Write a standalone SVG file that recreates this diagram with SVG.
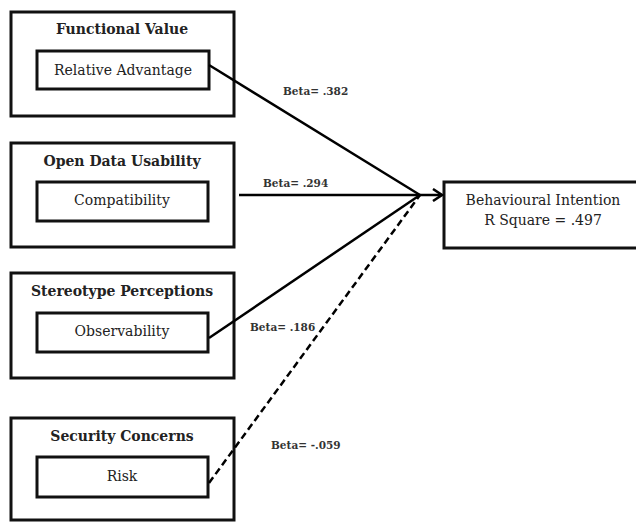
<svg xmlns="http://www.w3.org/2000/svg" width="636" height="522" viewBox="0 0 636 522">
<defs>
<style>
.box{fill:none;stroke:#111;stroke-width:3}
.title{font-family:"DejaVu Serif","Liberation Serif",serif;font-size:14px;font-weight:bold;fill:#222;text-anchor:middle}
.inner{font-family:"DejaVu Serif","Liberation Serif",serif;font-size:14px;fill:#222;text-anchor:middle}
.beta{font-family:"DejaVu Serif","Liberation Serif",serif;font-size:10.5px;font-weight:bold;fill:#333}
.edge{stroke:#000;stroke-width:2.5;fill:none}
</style>
<marker id="arr" markerWidth="12" markerHeight="14" refX="10" refY="7" orient="auto" markerUnits="userSpaceOnUse">
<path d="M1,1 L10,7 L1,13" fill="none" stroke="#000" stroke-width="2.5"/>
</marker>
</defs>
<rect width="636" height="522" fill="#fff"/>
<g id="functional-value">
<rect class="box" x="11" y="12" width="223" height="104"/>
<text class="title" x="122" y="34">Functional Value</text>
<rect class="box" x="37" y="51" width="172" height="38"/>
<text class="inner" x="123" y="75">Relative Advantage</text>
</g>
<g id="open-data-usability">
<rect class="box" x="11" y="143" width="223" height="104"/>
<text class="title" x="122" y="166">Open Data Usability</text>
<rect class="box" x="37" y="182" width="171" height="39"/>
<text class="inner" x="122" y="205">Compatibility</text>
</g>
<g id="stereotype-perceptions">
<rect class="box" x="11" y="273" width="223" height="105"/>
<text class="title" x="122" y="296">Stereotype Perceptions</text>
<rect class="box" x="37" y="313" width="171" height="39"/>
<text class="inner" x="122" y="336">Observability</text>
</g>
<g id="security-concerns">
<rect class="box" x="11" y="418" width="223" height="102"/>
<text class="title" x="122" y="441">Security Concerns</text>
<rect class="box" x="37" y="457" width="171" height="40"/>
<text class="inner" x="122" y="481">Risk</text>
</g>
<g id="behavioural-intention">
<rect class="box" x="444" y="182" width="200" height="66"/>
<text class="inner" x="543" y="205">Behavioural Intention</text>
<text class="inner" x="543" y="225">R Square = .497</text>
</g>
<g id="connectors">
<line class="edge" x1="209" y1="65" x2="420" y2="195"/>
<line class="edge" x1="239" y1="195" x2="442" y2="195" marker-end="url(#arr)"/>
<line class="edge" x1="209" y1="338" x2="420" y2="195"/>
<line class="edge" x1="209" y1="483" x2="420" y2="195" stroke-dasharray="7,4"/>
<text class="beta" x="283" y="95">Beta= .382</text>
<text class="beta" x="263" y="187">Beta= .294</text>
<text class="beta" x="250" y="331">Beta= .186</text>
<text class="beta" x="271" y="449">Beta= -.059</text>
</g>
</svg>
